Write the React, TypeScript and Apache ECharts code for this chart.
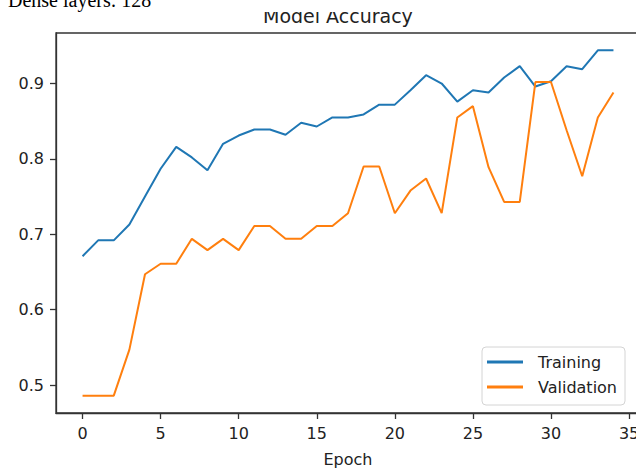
import React, { useEffect, useRef } from "react";
import * as echarts from "echarts";

const epochs = [0, 1, 2, 3, 4, 5, 6, 7, 8, 9, 10, 11, 12, 13, 14, 15, 16, 17, 18, 19, 20, 21, 22, 23, 24, 25, 26, 27, 28, 29, 30, 31, 32, 33, 34];
const training = [0.671, 0.692, 0.692, 0.713, 0.75, 0.787, 0.816, 0.802, 0.785, 0.82, 0.831, 0.839, 0.839, 0.832, 0.848, 0.843, 0.855, 0.855, 0.859, 0.872, 0.872, 0.891, 0.911, 0.9, 0.876, 0.891, 0.888, 0.908, 0.923, 0.896, 0.903, 0.923, 0.919, 0.944, 0.944];
const validation = [0.486, 0.486, 0.486, 0.547, 0.647, 0.661, 0.661, 0.694, 0.679, 0.694, 0.679, 0.711, 0.711, 0.694, 0.694, 0.711, 0.711, 0.728, 0.79, 0.79, 0.728, 0.758, 0.774, 0.728, 0.855, 0.87, 0.789, 0.743, 0.743, 0.902, 0.902, 0.838, 0.777, 0.855, 0.888];
const xTicks = [0, 5, 10, 15, 20, 25, 30, 35];
const yTicks = [0.5, 0.6, 0.7, 0.8, 0.9];
const seriesNames = ["Training", "Validation"];

const FONT = "DejaVu Sans";

export default function App() {
  const ref = useRef<HTMLDivElement>(null);
  useEffect(() => {
    if (!ref.current) return;
    const chart = echarts.init(ref.current, undefined, { renderer: "svg" });
    chart.setOption({
      animation: false,
      backgroundColor: "#ffffff",
      title: {
        text: "Model Accuracy",
        left: 263,
        top: 6,
        padding: 0,
        textStyle: { fontFamily: FONT, fontSize: 19, fontWeight: "normal", color: "#222" },
      },
      graphic: [
        { type: "rect", z: 100, shape: { x: 0, y: 0, width: 636, height: 12 }, style: { fill: "#ffffff" } },
        {
          type: "text",
          z: 101,
          x: 8,
          y: 10,
          style: { text: "Dense layers: 128", font: '20px "Liberation Serif"', fill: "#000", verticalAlign: "bottom" },
        },
      ],
      legend: {
        orient: "vertical",
        left: 482,
        top: 347,
        padding: [7, 8, 10, 5],
        itemWidth: 36,
        itemHeight: 3,
        itemGap: 9,
        backgroundColor: "#ffffff",
        borderColor: "#d4d4d4",
        borderWidth: 1,
        borderRadius: 4,
        data: seriesNames.map((n) => ({ name: n, icon: "rect" })),
        textStyle: { fontFamily: FONT, fontSize: 16, color: "#222", lineHeight: 16, padding: [0, 0, 0, 10] },
      },
      grid: {
        left: 56,
        top: 33,
        right: -4,
        bottom: 55,
        containLabel: false,
        outerBoundsMode: "none",
        show: true,
        borderColor: "#333",
        borderWidth: 1.3,
        backgroundColor: "transparent",
      },
      xAxis: {
        type: "value",
        min: -1.7,
        max: 35.7,
        name: "Epoch",
        nameLocation: "middle",
        nameGap: 38,
        nameTextStyle: { fontFamily: FONT, fontSize: 16, color: "#222" },
        axisLine: { show: true, onZero: false, lineStyle: { color: "#333", width: 1.3 } },
        axisTick: { show: true, length: 6, customValues: xTicks, lineStyle: { color: "#333", width: 1.3 } },
        axisLabel: { customValues: xTicks, margin: 12, fontFamily: FONT, fontSize: 16, color: "#222" },
        splitLine: { show: false },
      },
      yAxis: {
        type: "value",
        min: 0.463,
        max: 0.967,
        axisLine: { show: true, onZero: false, lineStyle: { color: "#333", width: 1.3 } },
        axisTick: { show: true, length: 6, customValues: yTicks, lineStyle: { color: "#333", width: 1.3 } },
        axisLabel: {
          customValues: yTicks,
          margin: 12,
          fontFamily: FONT,
          fontSize: 16,
          color: "#222",
          formatter: (v: number) => v.toFixed(1),
        },
        splitLine: { show: false },
      },
      series: [
        {
          name: seriesNames[0],
          type: "line",
          data: epochs.map((e, i) => [e, training[i]]),
          symbol: "none",
          lineStyle: { color: "#1f77b4", width: 2 },
          itemStyle: { color: "#1f77b4" },
        },
        {
          name: seriesNames[1],
          type: "line",
          data: epochs.map((e, i) => [e, validation[i]]),
          symbol: "none",
          lineStyle: { color: "#ff7f0e", width: 2 },
          itemStyle: { color: "#ff7f0e" },
        },
      ],
    });
    return () => chart.dispose();
  }, []);
  return <div ref={ref} style={{ position: "absolute", left: 0, top: 0, width: 636, height: 468 }} />;
}
